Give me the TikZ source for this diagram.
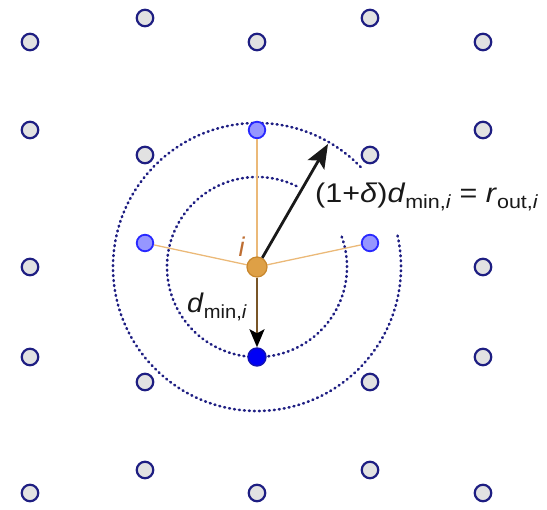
\documentclass[tikz,border=0pt]{standalone}
\usepackage{fontspec}
\setmainfont{Liberation Sans}
\usetikzlibrary{arrows.meta,calc}
\definecolor{navy}{RGB}{30,30,130}
\definecolor{ptgray}{RGB}{226,226,226}
\definecolor{lblue}{RGB}{150,150,255}
\definecolor{mblue}{RGB}{40,40,255}
\definecolor{dblue}{RGB}{0,0,245}
\definecolor{orfill}{RGB}{222,160,70}
\definecolor{oredge}{RGB}{200,135,45}
\definecolor{orline}{RGB}{235,185,120}
\definecolor{brline}{RGB}{120,85,40}
\definecolor{ilabel}{RGB}{190,110,50}
\definecolor{txt}{RGB}{25,25,25}
\newcommand\lowsub[1]{\raisebox{-6pt}{\fontsize{19}{19}\selectfont #1}}
\tikzset{
  gpt/.style={circle,draw=navy,fill=ptgray,line width=2.2pt,minimum size=16.5pt,inner sep=0pt},
  lpt/.style={circle,draw=mblue,fill=lblue,line width=1.8pt,minimum size=16.5pt,inner sep=0pt},
  dpt/.style={circle,draw=navy!60!blue,fill=dblue,line width=1.4pt,minimum size=18pt,inner sep=0pt},
  opt/.style={circle,draw=oredge,fill=orfill,line width=1.2pt,minimum size=20pt,inner sep=0pt},
  dotc/.style={draw=navy,line width=2.6pt,dash pattern=on 0.9pt off 4.1pt,line cap=round},
  bond/.style={draw=orline,line width=1.3pt},
  lbl/.style={font=\fontsize{27}{27}\selectfont,text=txt,inner sep=0pt}
}
\begin{document}
\begin{tikzpicture}[x=1pt,y=1pt]
\useasboundingbox (0,0) rectangle (547,510);
\coordinate (cc) at (257,243);
% dotted circles
\draw[dotc] ($(cc)+(64:90)$) arc[start angle=64, end angle=381, radius=90];
\draw[dotc] ($(cc)+(44:144)$) arc[start angle=44, end angle=374, radius=144];
% lattice points
\node[gpt] (a1) at (30,468) {};
\node[gpt] (a2) at (30,380) {};
\node[gpt] (a3) at (30,243) {};
\node[gpt] (a4) at (30,153) {};
\node[gpt] (a5) at (30,17) {};
\node[gpt] (b1) at (145,492) {};
\node[gpt] (b2) at (145,355) {};
\node[lpt] (b3) at (145,267) {};
\node[gpt] (b4) at (145,128) {};
\node[gpt] (b5) at (145,40) {};
\node[gpt] (c1) at (257,468) {};
\node[lpt] (c2) at (257,380) {};
\node[dpt] (c4) at (257,153) {};
\node[gpt] (c5) at (257,17) {};
\node[gpt] (d1) at (370,492) {};
\node[gpt] (d2) at (370,355) {};
\node[lpt] (d3) at (370,267) {};
\node[gpt] (d4) at (370,128) {};
\node[gpt] (d5) at (370,40) {};
\node[gpt] (e1) at (483,468) {};
\node[gpt] (e2) at (483,380) {};
\node[gpt] (e3) at (483,243) {};
\node[gpt] (e4) at (483,153) {};
\node[gpt] (e5) at (483,17) {};
% bonds
\draw[bond] (cc) -- (c2);
\draw[bond] (cc) -- (b3);
\draw[bond] (cc) -- (d3);
% centre atom
\node[opt] (ci) at (cc) {};
% arrows
\coordinate (rtip) at (328,366);
\draw[txt,line width=2.8pt,-{Stealth[length=24pt,width=19pt,inset=5pt]}] (ci) -- (rtip);
\draw[brline,line width=2.4pt,-{Stealth[length=18pt,width=15pt,inset=4pt,black]}] (ci) -- (c4);
% labels
\node[lbl,text=ilabel,anchor=base] (il) at (242,253) {\textit{i}};
\node[lbl,anchor=base west] (dl) at (187,197) {\scalebox{1.06}[1]{\textit{d}\lowsub{min,\textit{i}}}};
\node[lbl,anchor=base west] (rl) at (315,307) {\scalebox{1.13}[1]{(1+\textit{δ})\textit{d}\lowsub{min,\textit{i}} = \textit{r}\lowsub{out,\textit{i}}}};
\end{tikzpicture}
\end{document}
